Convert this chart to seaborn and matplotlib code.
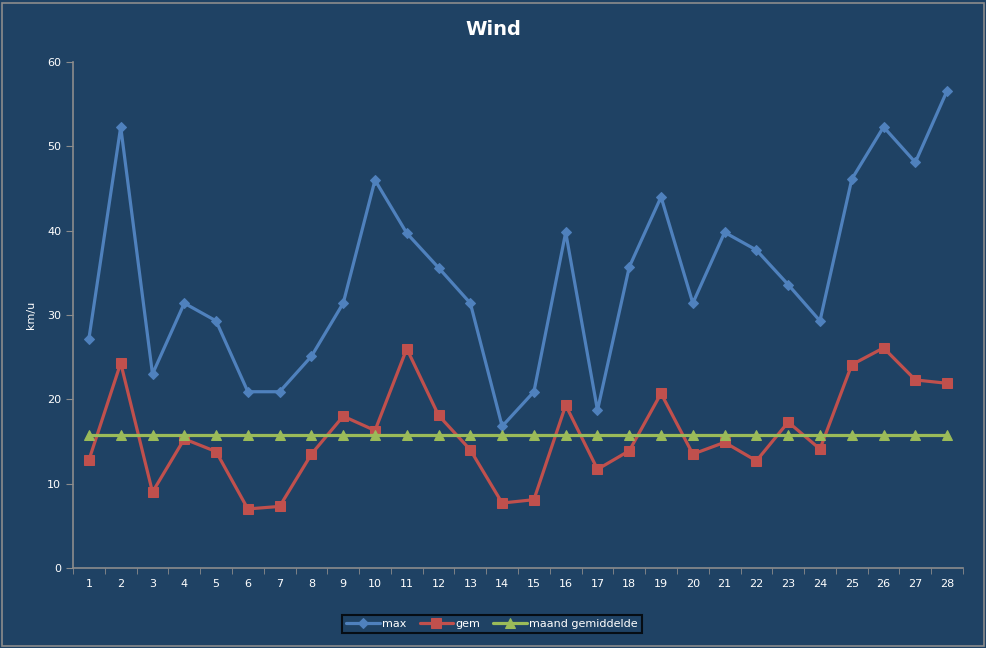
import pandas as pd
import matplotlib.pyplot as plt
import seaborn as sns
from matplotlib.patches import Rectangle
from matplotlib.ticker import MultipleLocator

# Data
days = list(range(1, 29))
max_wind = [27.2, 52.3, 23.0, 31.4, 29.3, 20.9, 20.9, 25.1, 31.4, 46.0,
            39.7, 35.6, 31.4, 16.8, 20.9, 39.8, 18.7, 35.7, 44.0, 31.4,
            39.8, 37.7, 33.6, 29.3, 46.1, 52.3, 48.1, 56.6]
gem_wind = [12.8, 24.3, 9.0, 15.3, 13.8, 7.0, 7.3, 13.5, 18.0, 16.3,
            26.0, 18.1, 14.0, 7.7, 8.1, 19.3, 11.7, 13.9, 20.7, 13.5,
            14.9, 12.7, 17.3, 14.1, 24.1, 26.1, 22.3, 21.9]
maand_gem = [15.8] * 28

bg = "#1F4264"
sns.set_style("dark")
plt.rcParams["font.family"] = ["DejaVu Sans"]

fig = plt.figure(figsize=(9.87, 6.48), dpi=100, facecolor=bg)
ax = fig.add_axes([0.074, 0.1235, 0.9017, 0.7808])
ax.set_facecolor(bg)

sns.lineplot(x=days, y=max_wind, ax=ax, color="#4F81BD", marker="D",
             markersize=5.5, linewidth=2.3, markeredgecolor="#4F81BD", label="max")
sns.lineplot(x=days, y=gem_wind, ax=ax, color="#C0504D", marker="s",
             markersize=7, linewidth=2.3, markeredgecolor="#C0504D", label="gem")
sns.lineplot(x=days, y=maand_gem, ax=ax, color="#9BBB59", marker="^",
             markersize=6.5, linewidth=2.3, markeredgecolor="#9BBB59",
             label="maand gemiddelde")

ax.set_xlim(0.5, 28.5)
ax.set_ylim(0, 60)
ax.set_xticks(days)
ax.xaxis.set_minor_locator(MultipleLocator(1, offset=0.5))
ax.yaxis.set_major_locator(MultipleLocator(10))
ax.grid(False)
for side in ["top", "right"]:
    ax.spines[side].set_visible(False)
for side in ["left", "bottom"]:
    ax.spines[side].set_color("#8C8C8C")
    ax.spines[side].set_linewidth(1.2)
ax.tick_params(axis="x", which="major", length=0, colors="white", labelsize=8, pad=8)
ax.tick_params(axis="x", which="minor", length=4, color="#8C8C8C", bottom=True)
ax.tick_params(axis="y", which="major", length=5, color="#8C8C8C",
               labelcolor="white", labelsize=8, left=True)

ax.set_xlabel("")
ax.set_ylabel("km/u", color="white", fontsize=8, labelpad=8)
fig.suptitle("Wind", color="white", fontsize=14, fontweight="bold", y=0.954, va="center")

ax.get_legend().remove()
handles, labels = ax.get_legend_handles_labels()
leg = fig.legend(handles, labels, loc="center", bbox_to_anchor=(0.4985, 0.037),
                 ncol=3, fontsize=8, frameon=True, facecolor=bg,
                 edgecolor="black", fancybox=False, handlelength=3.0,
                 handletextpad=0.2, columnspacing=1.2, borderpad=0.4)
leg.get_frame().set_linewidth(1.5)
for t in leg.get_texts():
    t.set_color("white")

fig.patches.append(Rectangle((0.002, 0.003), 0.995, 0.993, transform=fig.transFigure,
                             fill=False, edgecolor="#8C8C8C", linewidth=1.2))

plt.savefig("out.png", dpi=100, facecolor=bg)
